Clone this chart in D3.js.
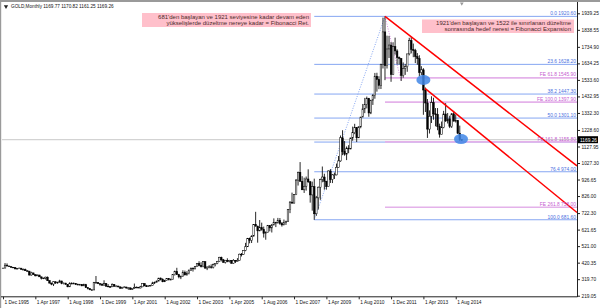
<!DOCTYPE html>
<html>
<head>
<meta charset="utf-8">
<script src="https://cdn.jsdelivr.net/npm/d3@7"></script>
<style>
  body { margin: 0; background: #fff; }
  svg { display: block; font-family: 'Liberation Sans', Arial, sans-serif; }
</style>
</head>
<body>
<svg id="chart" width="600" height="308"></svg>
<script>
// GOLD monthly, Dec 1995 .. Nov 2014 (one value per month)
const opens = [
  386,
  387, 405, 400, 396, 392, 391, 382, 385, 387, 379, 379, 371,
  369, 345, 358, 348, 340, 345, 334, 326, 325, 332, 311, 296,
  290, 304, 297, 301, 309, 293, 296, 288, 273, 294, 292, 294,
  288, 287, 287, 279, 286, 268, 262, 255, 254, 299, 299, 292,
  290, 283, 293, 277, 274, 273, 288, 276, 278, 273, 264, 270,
  272, 266, 267, 258, 264, 268, 271, 266, 273, 293, 279, 275,
  279, 282, 297, 301, 308, 326, 318, 304, 312, 324, 317, 318,
  347, 367, 347, 334, 336, 361, 346, 354, 375, 385, 386, 398,
  416, 403, 396, 426, 387, 394, 395, 391, 408, 416, 428, 453,
  438, 422, 435, 428, 435, 417, 435, 429, 434, 472, 470, 495,
  517, 568, 556, 582, 654, 643, 614, 633, 623, 599, 604, 646,
  632, 650, 665, 662, 678, 659, 650, 666, 673, 743, 789, 783,
  834, 923, 971, 916, 864, 886, 930, 913, 833, 884, 718, 815,
  880, 927, 942, 916, 883, 979, 927, 955, 955, 1001, 1040, 1181,
  1096, 1081, 1118, 1113, 1180, 1212, 1244, 1181, 1248, 1307, 1357, 1385,
  1421, 1332, 1410, 1439, 1556, 1536, 1500, 1628, 1826, 1620, 1722, 1746,
  1566, 1737, 1710, 1669, 1664, 1560, 1604, 1614, 1692, 1773, 1719, 1712,
  1675, 1663, 1578, 1595, 1472, 1393, 1234, 1312, 1395, 1327, 1323, 1250,
  1202, 1244, 1326, 1284, 1296, 1250, 1327, 1282, 1287, 1209, 1169.77
]
const highs = [
  389,
  418, 416, 401, 397, 394, 391, 388, 390, 387, 385, 384, 373,
  369, 365, 358, 348, 348, 346, 334, 329, 335, 336, 312, 298,
  307, 306, 304, 316, 309, 299, 297, 289, 301, 301, 300, 296,
  293, 291, 290, 292, 291, 268, 263, 258, 303, 339, 301, 293,
  293, 313, 296, 290, 277, 294, 290, 282, 279, 274, 273, 276,
  273, 270, 268, 265, 293, 275, 272, 279, 294, 294, 285, 281,
  285, 304, 305, 311, 328, 330, 325, 316, 325, 325, 324, 349,
  372, 389, 352, 342, 374, 372, 368, 378, 391, 392, 400, 417,
  429, 423, 428, 428, 397, 405, 410, 415, 416, 431, 456, 457,
  443, 437, 447, 437, 436, 442, 436, 448, 475, 479, 497, 541,
  571, 573, 587, 654, 730, 645, 680, 664, 640, 611, 650, 648,
  656, 690, 669, 693, 692, 668, 683, 675, 745, 795, 847, 838,
  930, 975, 1033, 947, 938, 945, 989, 918, 914, 932, 827, 884,
  932, 1006, 962, 919, 982, 990, 960, 969, 1024, 1070, 1195, 1227,
  1161, 1128, 1136, 1181, 1249, 1266, 1245, 1251, 1309, 1387, 1424, 1432,
  1424, 1412, 1447, 1576, 1577, 1556, 1632, 1913, 1920.6, 1803, 1802, 1764,
  1763, 1791, 1720, 1676, 1666, 1640, 1631, 1692, 1790, 1796, 1755, 1723,
  1697, 1684, 1617, 1605, 1487, 1417, 1348, 1434, 1425, 1362, 1362, 1267,
  1280, 1345, 1392, 1332, 1315, 1332, 1345, 1323, 1288, 1255, 1170.82
]
const lows = [
  384,
  387, 397, 394, 389, 388, 381, 380, 384, 378, 378, 370, 366,
  342, 341, 346, 337, 339, 334, 318, 320, 318, 309, 294, 283,
  278, 291, 292, 299, 289, 288, 286, 271, 272, 289, 291, 284,
  283, 283, 277, 278, 267, 257, 253, 252, 253, 296, 290, 280,
  279, 282, 273, 270, 268, 272, 275, 271, 269, 263, 263, 268,
  262, 255, 255, 254, 262, 264, 265, 264, 271, 277, 272, 272,
  276, 281, 290, 300, 307, 312, 301, 302, 311, 312, 314, 317,
  342, 345, 325, 320, 335, 342, 341, 349, 370, 366, 378, 397,
  398, 391, 392, 384, 375, 386, 384, 385, 398, 411, 426, 428,
  420, 415, 423, 422, 414, 414, 418, 428, 433, 458, 468, 490,
  516, 538, 540, 580, 640, 542, 612, 615, 573, 560, 603, 611,
  604, 648, 637, 660, 651, 640, 649, 650, 668, 722, 780, 781,
  832, 890, 913, 863, 845, 859, 906, 786, 737, 681.6, 705, 744,
  803, 910, 865, 865, 881, 906, 905, 930, 952, 999, 1035, 1075,
  1072, 1045, 1087, 1111, 1163, 1203, 1155, 1179, 1239, 1314, 1331, 1360,
  1309, 1325, 1381, 1419, 1462, 1477, 1478, 1603, 1532, 1603, 1667, 1522,
  1563, 1687, 1627, 1627, 1527, 1547, 1564, 1583, 1683, 1695, 1672, 1636,
  1626, 1555, 1563, 1321, 1338, 1180, 1207, 1271, 1291, 1251, 1227, 1182,
  1202, 1239, 1277, 1268, 1240, 1241, 1282, 1274, 1204, 1161, 1161.25
]
const closes = [
  387,
  405, 400, 396, 392, 391, 382, 385, 387, 379, 379, 371, 369,
  345, 358, 348, 340, 345, 334, 326, 325, 332, 311, 296, 290,
  304, 297, 301, 309, 293, 296, 288, 273, 294, 292, 294, 288,
  287, 287, 279, 286, 268, 262, 255, 254, 299, 299, 292, 290,
  283, 293, 277, 274, 273, 288, 276, 278, 273, 264, 270, 272,
  266, 267, 258, 264, 268, 271, 266, 273, 293, 279, 275, 279,
  282, 297, 301, 308, 326, 318, 304, 312, 324, 317, 318, 347,
  367, 347, 334, 336, 361, 346, 354, 375, 385, 386, 398, 416,
  403, 396, 426, 387, 394, 395, 391, 408, 416, 428, 453, 438,
  422, 435, 428, 435, 417, 435, 429, 434, 472, 470, 495, 517,
  568, 556, 582, 654, 643, 614, 633, 623, 599, 604, 646, 632,
  650, 665, 662, 678, 659, 650, 666, 673, 743, 789, 783, 834,
  923, 971, 916, 864, 886, 930, 913, 833, 884, 718, 815, 880,
  927, 942, 916, 883, 979, 927, 955, 955, 1001, 1040, 1181, 1096,
  1081, 1118, 1113, 1180, 1212, 1244, 1181, 1248, 1307, 1357, 1385, 1421,
  1332, 1410, 1439, 1556, 1536, 1500, 1628, 1826, 1620, 1722, 1746, 1566,
  1737, 1710, 1669, 1664, 1560, 1604, 1614, 1692, 1773, 1719, 1712, 1675,
  1663, 1578, 1595, 1472, 1393, 1234, 1312, 1395, 1327, 1323, 1250, 1202,
  1244, 1326, 1284, 1296, 1250, 1327, 1282, 1287, 1209, 1171, 1169.26
]

// axis labels
const priceTicks = [1939.25, 1838.55, 1734.90, 1634.25, 1533.60, 1432.95, 1332.30,
  1228.60, 1127.95, 1027.30, 926.65, 826.00, 722.30, 621.65, 521.00, 420.35, 319.70, 219.05]
const dateLabels = ['1 Dec 1995', '1 Apr 1997', '1 Aug 1998', '1 Dec 1999', '1 Apr 2001',
  '1 Aug 2002', '1 Dec 2003', '1 Apr 2005', '1 Aug 2006', '1 Dec 2007', '1 Apr 2009',
  '1 Aug 2010', '1 Dec 2011', '1 Apr 2013', '1 Aug 2014']

// fibonacci retracement 681.60 (Oct 2008) -> 1920.60 (Sep 2011)
// label: false where the FE label sits on top of it
const fiboLevels = [
  { name: '0.0', price: 1920.60, label: true },
  { name: '23.6', price: 1628.20, label: true },
  { name: '38.2', price: 1447.30, label: true },
  { name: '50.0', price: 1301.10, label: true },
  { name: '61.8', price: 1154.90, label: false },
  { name: '76.4', price: 974.00, label: true },
  { name: '100.0', price: 681.60, label: true }
]
// fibonacci expansion
const expansionLevels = [
  { name: 'FE 61.8', price: 1545.90 },
  { name: 'FE 100.0', price: 1397.90 },
  { name: 'FE 161.8', price: 1155.80 },
  { name: 'FE 261.8', price: 758.00 }
]
// month indexes: 0 = Dec 1995
const fiboStart = 154
const peakIndex = 189
const lastIndex = 284
const channel = [
  { from: [189, 1920.6], to: [284, 1010] },
  { from: [208.8, 1482], to: [284, 726] }
]
const markers = [[208, 1533], [226.6, 1173]]
const notes = [
  ["681'den başlayan ve 1921 seviyesine kadar devam eden", 'yükselişlerde düzeltme nereye kadar = Fibonacci Ret.'],
  ["1921'den başlayan ve 1522 ile sınırlanan düzeltme", 'sonrasında hedef neresi = Fibonacci Expansion']
]

const svg = d3.select('#chart')

const x = d3.scaleLinear().domain([0, lastIndex]).range([3, 577])
const y = d3.scaleLinear().domain([219.05, 1939.25]).range([295.7, 13.3])

const candles = closes.map((c, i) => ({ i, o: opens[i], h: highs[i], l: lows[i], c }))

// frame
svg.append('rect').attr('x', 0).attr('y', 0).attr('width', 600).attr('height', 308).attr('fill', '#fff')
svg.append('rect').attr('x', 0).attr('y', 0).attr('width', 600).attr('height', 2).attr('fill', '#9a9a9a')
svg.append('rect').attr('x', 0).attr('y', 0).attr('width', 1.2).attr('height', 308).attr('fill', '#9a9a9a')

const plot = svg.append('g')

// bid line
plot.append('line')
  .attr('x1', 2).attr('x2', 577)
  .attr('y1', y(1169.26)).attr('y2', y(1169.26))
  .attr('stroke', '#c8c8c8').attr('stroke-width', 1)

// retracement lines
plot.selectAll('.fibo')
  .data(fiboLevels)
  .enter()
  .append('line')
  .attr('class', 'fibo')
  .attr('x1', x(fiboStart)).attr('x2', x(lastIndex))
  .attr('y1', d => y(d.price)).attr('y2', d => y(d.price))
  .attr('stroke', '#86a6f2').attr('stroke-width', 1)

plot.selectAll('.fe')
  .data(expansionLevels)
  .enter()
  .append('line')
  .attr('class', 'fe')
  .attr('x1', x(peakIndex)).attr('x2', x(lastIndex))
  .attr('y1', d => y(d.price)).attr('y2', d => y(d.price))
  .attr('stroke', '#e4b2ea').attr('stroke-width', 1.6)

// fibo trend lines (dotted)
plot.append('line')
  .attr('x1', x(fiboStart)).attr('y1', y(681.6))
  .attr('x2', x(peakIndex)).attr('y2', y(1920.6))
  .attr('stroke', '#86a6f2').attr('stroke-dasharray', '1,1.5')
plot.append('line')
  .attr('x1', x(peakIndex)).attr('y1', y(1920.6))
  .attr('x2', x(197)).attr('y2', y(1527))
  .attr('stroke', '#d890e0').attr('stroke-dasharray', '1,1.5')

// candles
const bars = plot.selectAll('.candle')
  .data(candles)
  .enter()
  .append('g')
  .attr('class', 'candle')

bars.append('line')
  .attr('x1', d => x(d.i)).attr('x2', d => x(d.i))
  .attr('y1', d => y(d.h)).attr('y2', d => y(d.l))
  .attr('stroke', '#111').attr('stroke-width', 0.9)

bars.append('rect')
  .attr('x', d => x(d.i) - 0.8)
  .attr('width', 1.6)
  .attr('y', d => y(Math.max(d.o, d.c)))
  .attr('height', d => Math.max(0.6, Math.abs(y(d.o) - y(d.c))))
  .attr('fill', d => (d.c >= d.o ? '#fff' : '#000'))
  .attr('stroke', '#000').attr('stroke-width', 0.5)

// channel
plot.selectAll('.channel')
  .data(channel)
  .enter()
  .append('line')
  .attr('class', 'channel')
  .attr('x1', d => x(d.from[0])).attr('y1', d => y(d.from[1]))
  .attr('x2', d => x(d.to[0])).attr('y2', d => y(d.to[1]))
  .attr('stroke', '#ff0000').attr('stroke-width', 1.5)

// ellipses
plot.selectAll('.mark')
  .data(markers)
  .enter()
  .append('ellipse')
  .attr('cx', d => x(d[0])).attr('cy', d => y(d[1]))
  .attr('rx', 7).attr('ry', 5)
  .attr('fill', '#3f86e6').attr('opacity', 0.85)

// level labels
plot.selectAll('.fibo-label')
  .data(fiboLevels.filter(d => d.label))
  .enter()
  .append('text')
  .attr('x', 576).attr('y', d => y(d.price) - 1.2)
  .attr('text-anchor', 'end')
  .attr('font-size', 4.9)
  .attr('fill', '#4a6fe0')
  .text(d => d.name + ' ' + d.price.toFixed(2))

plot.selectAll('.fe-label')
  .data(expansionLevels)
  .enter()
  .append('text')
  .attr('x', 576).attr('y', d => y(d.price) - 1.4)
  .attr('text-anchor', 'end')
  .attr('font-size', 4.9)
  .attr('fill', '#c65ccf')
  .text(d => d.name + ' ' + d.price.toFixed(2))

// note boxes
const boxes = [
  { x: 142, y: 13, w: 169, h: 14, right: 309 },
  { x: 422, y: 19.5, w: 152, h: 13.5, right: 571 }
]
boxes.forEach((b, k) => {
  svg.append('rect')
    .attr('x', b.x).attr('y', b.y).attr('width', b.w).attr('height', b.h)
    .attr('fill', '#ffc0cb')
  svg.selectAll('.note' + k)
    .data(notes[k])
    .enter()
    .append('text')
    .attr('x', b.right)
    .attr('y', (d, j) => b.y + 5.6 + j * 6.2)
    .attr('text-anchor', 'end')
    .attr('font-size', 6)
    .attr('fill', '#4a2a2a')
    .text(d => d)
})

// axes
svg.append('line')
  .attr('x1', 577.5).attr('x2', 577.5).attr('y1', 2).attr('y2', 297)
  .attr('stroke', '#222')
svg.append('line')
  .attr('x1', 1).attr('x2', 577.5).attr('y1', 296.8).attr('y2', 296.8)
  .attr('stroke', '#222')

const yAxis = svg.append('g')
  .attr('transform', 'translate(577.5,0)')
  .call(d3.axisRight(y).tickValues(priceTicks).tickSize(2.5).tickFormat(d3.format('.2f')))
yAxis.select('.domain').remove()
yAxis.selectAll('line').attr('stroke', '#222')
yAxis.selectAll('text').attr('font-size', 4.8).attr('fill', '#111')
  .attr('font-family', "'Liberation Sans', Arial, sans-serif").attr('x', 4)

const xAxis = svg.append('g')
  .attr('transform', 'translate(0,296.8)')
  .call(d3.axisBottom(x).tickValues(dateLabels.map((d, i) => i * 16)).tickSize(2.5)
    .tickFormat((d, i) => dateLabels[i]))
xAxis.select('.domain').remove()
xAxis.selectAll('line').attr('stroke', '#222')
xAxis.selectAll('text').attr('font-size', 4.8).attr('fill', '#111')
  .attr('font-family', "'Liberation Sans', Arial, sans-serif")
  .attr('text-anchor', 'start').attr('x', 1).attr('y', 3.5)

// current price tag
svg.append('rect')
  .attr('x', 578).attr('y', y(1169.26) - 3.5).attr('width', 20).attr('height', 7)
  .attr('fill', '#000')
svg.append('text')
  .attr('x', 580).attr('y', y(1169.26) + 1.8)
  .attr('font-size', 4.8).attr('fill', '#fff')
  .text('1169.26')

// title
svg.append('path')
  .attr('d', d3.symbol(d3.symbolTriangle, 8)())
  .attr('transform', 'translate(6,6.5) rotate(180)')
  .attr('fill', '#222')
svg.append('text')
  .attr('x', 11).attr('y', 8)
  .attr('font-size', 4.7).attr('fill', '#111')
  .text('GOLD,Monthly  1169.77 1170.82 1161.25 1169.26')

// shift marker
svg.append('path')
  .attr('d', d3.symbol(d3.symbolTriangle, 6)())
  .attr('transform', 'translate(' + x(227) + ',3.5) rotate(180)')
  .attr('fill', '#999')
</script>
</body>
</html>
